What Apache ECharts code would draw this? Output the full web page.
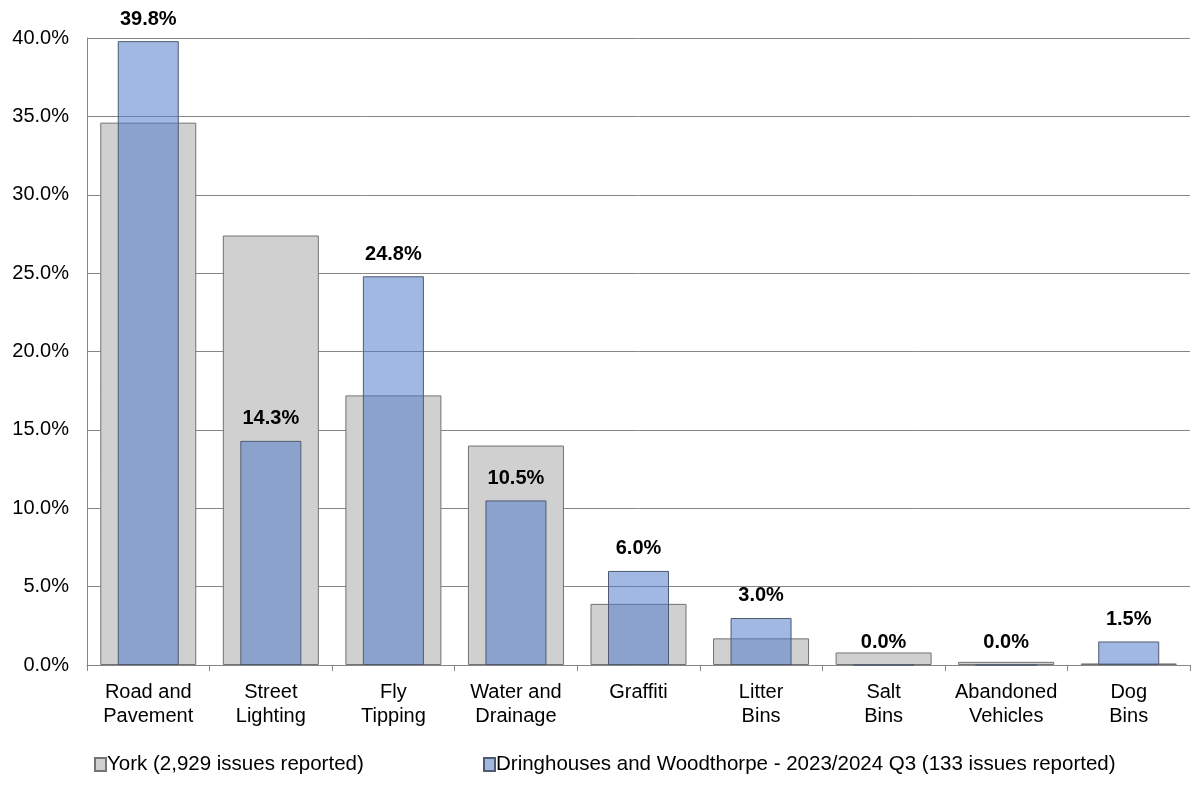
<!DOCTYPE html>
<html>
<head>
<meta charset="utf-8">
<script src="https://cdn.jsdelivr.net/npm/echarts@6/dist/echarts.min.js"></script>
<style>
  html, body { margin: 0; padding: 0; background: #fff; }
  #chart { width: 1194px; height: 803px; }
</style>
</head>
<body>
<div id="chart"></div>
<script>
  // categories and values
  var categories = ['Road and\nPavement', 'Street\nLighting', 'Fly\nTipping', 'Water and\nDrainage',
    'Graffiti', 'Litter\nBins', 'Salt\nBins', 'Abandoned\nVehicles', 'Dog\nBins']
  var yorkName = 'York (2,929 issues reported)'
  var wardName = 'Dringhouses and Woodthorpe - 2023/2024 Q3 (133 issues reported)'
  var yorkValues = [34.6, 27.4, 17.2, 14.0, 3.9, 1.7, 0.8, 0.2, 0.1]
  var wardValues = [39.8, 14.3, 24.8, 10.5, 6.0, 3.0, 0.0, 0.0, 1.5]

  var font = '"Liberation Sans", Arial, sans-serif'
  var chart = echarts.init(document.getElementById('chart'))

  chart.setOption({
    backgroundColor: '#fff',
    animation: false,
    textStyle: { fontFamily: font },
    grid: {
      left: 87,
      right: 4,
      top: 38,
      bottom: 138
    },
    legend: [
      {
        data: [yorkName],
        left: 89,
        top: 749,
        icon: 'rect',
        itemWidth: 11,
        itemHeight: 13,
        itemGap: 0,
        textStyle: { color: '#000', fontSize: 20.5, fontFamily: font, padding: [0, 0, 0, -4] }
      },
      {
        data: [wardName],
        left: 478,
        top: 749,
        icon: 'rect',
        itemWidth: 11,
        itemHeight: 13,
        itemGap: 0,
        textStyle: { color: '#000', fontSize: 20.5, fontFamily: font, padding: [0, 0, 0, -4] }
      }
    ],
    xAxis: [
      {
        type: 'category',
        data: categories,
        axisLine: { lineStyle: { color: '#868686', width: 1 } },
        axisTick: { show: true, length: 6, lineStyle: { color: '#868686' } },
        axisLabel: {
          color: '#000',
          fontSize: 20,
          lineHeight: 24,
          margin: 15,
          interval: 0,
          fontFamily: font
        }
      },
      {
        type: 'category',
        data: categories,
        show: false
      }
    ],
    yAxis: {
      type: 'value',
      min: 0,
      max: 40,
      interval: 5,
      axisLine: { show: true, lineStyle: { color: '#868686' } },
      axisTick: { show: false },
      splitLine: { lineStyle: { color: '#868686', width: 1 } },
      axisLabel: {
        color: '#000',
        fontSize: 20,
        margin: 18,
        fontFamily: font,
        formatter: function (v) { return v.toFixed(1) + '%' }
      }
    },
    series: [
      {
        name: yorkName,
        type: 'bar',
        xAxisIndex: 0,
        barWidth: 96,
        data: yorkValues,
        itemStyle: {
          color: '#d0d0d0',
          borderColor: '#737373',
          borderWidth: 1
        }
      },
      {
        name: wardName,
        type: 'bar',
        xAxisIndex: 1,
        barWidth: 61,
        data: wardValues,
        z: 3,
        itemStyle: {
          color: 'rgba(78, 122, 200, 0.53)',
          borderColor: '#4f5a70',
          borderWidth: 1
        },
        label: {
          show: true,
          position: 'top',
          distance: 12,
          color: '#000',
          fontSize: 20,
          fontWeight: 'bold',
          fontFamily: font,
          formatter: function (p) { return p.value.toFixed(1) + '%' }
        }
      }
    ]
  })
</script>
</body>
</html>
